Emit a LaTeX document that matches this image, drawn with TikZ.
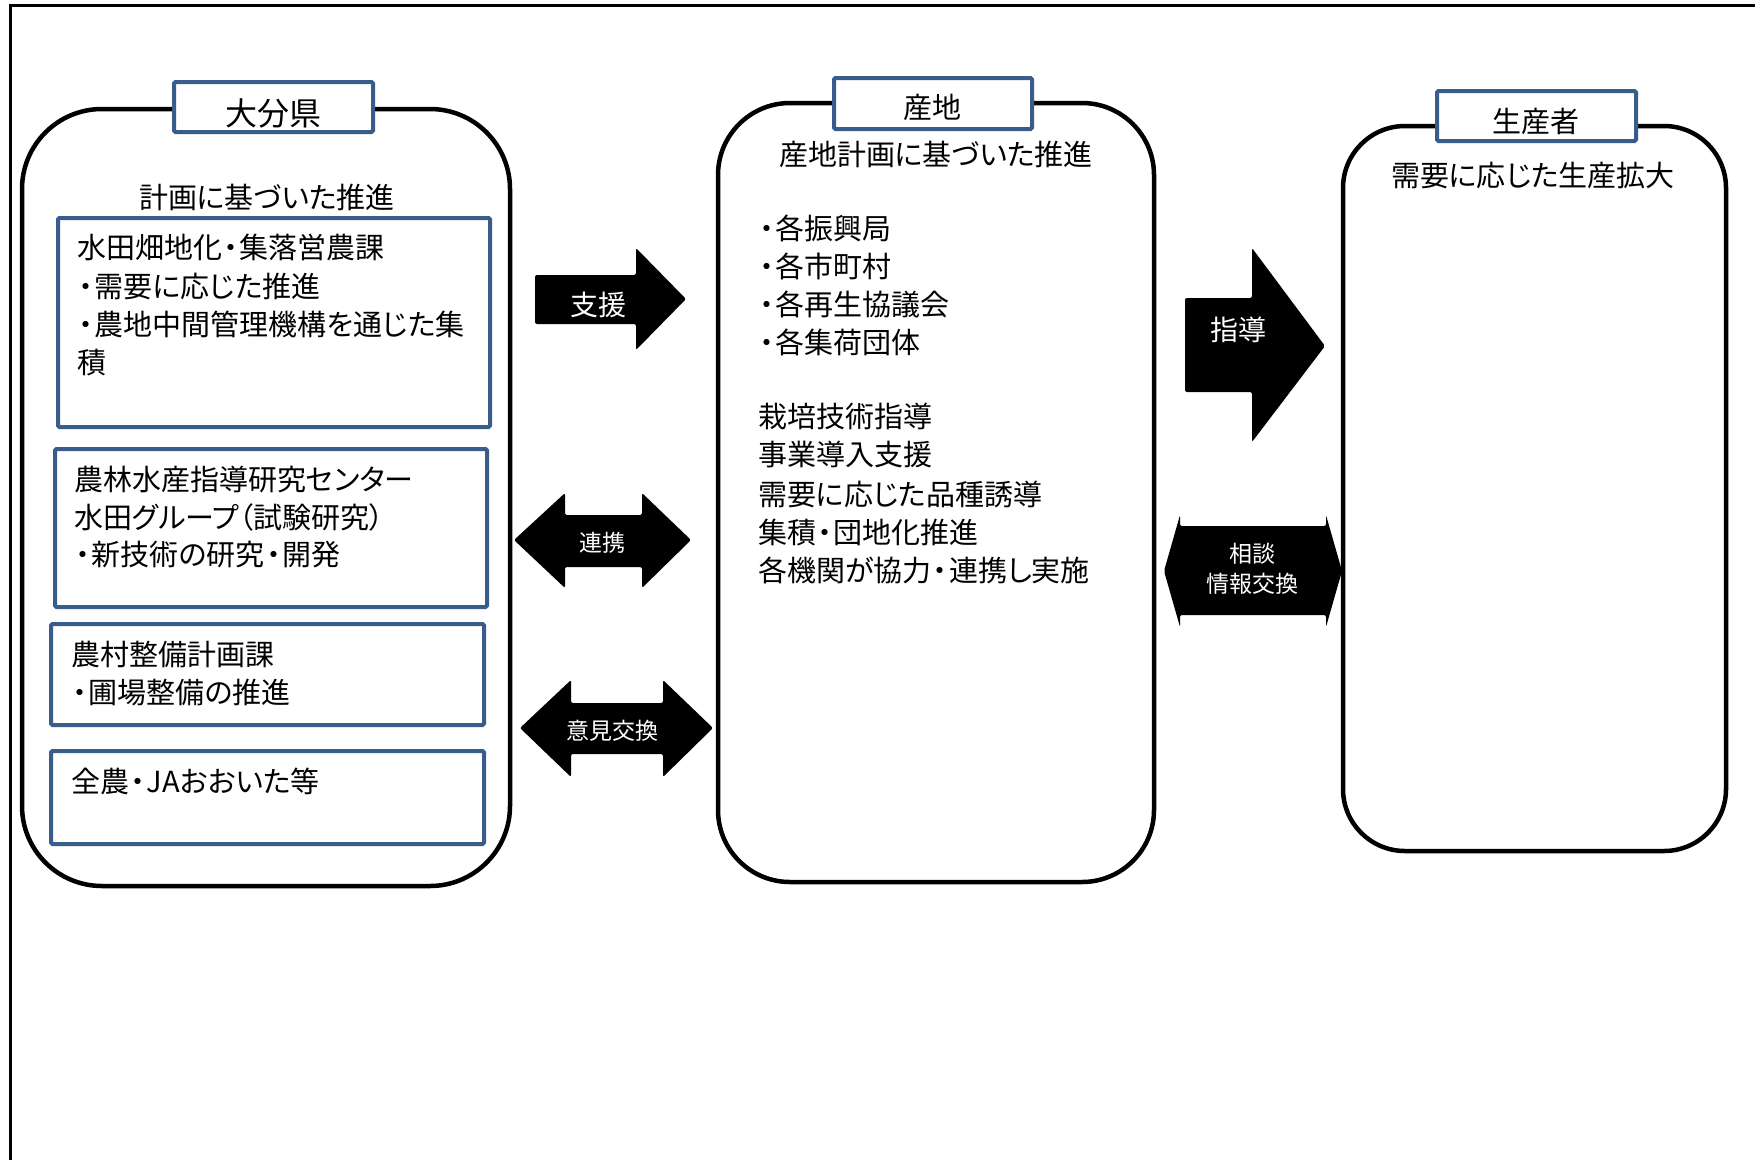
\documentclass[tikz,border=0pt]{standalone}
\usepackage{fontspec}
\setmainfont{Noto Sans CJK JP}[RawFeature={+palt}]
\definecolor{boxblue}{RGB}{56,93,138}
\newcommand\nkg{\kern1.6pt・\kern1.6pt}
\tikzset{
  bigbox/.style={draw=black, line width=4.5pt, fill=white, rounded corners=#1, inner sep=0pt},
  tabbox/.style={draw=boxblue, line width=4pt, fill=white, inner sep=0pt, rounded corners=1.5pt},
  subbox/.style={draw=boxblue, line width=4pt, fill=white, inner sep=0pt, rounded corners=1.5pt},
  txt/.style={inner sep=0pt, anchor=base west, font=\fontsize{29}{38}\selectfont},
  ctxt/.style={inner sep=0pt, anchor=base, font=\fontsize{29}{38}\selectfont},
  wtxt/.style={inner sep=0pt, anchor=base, text=white, font=\fontsize{#1}{#1}\selectfont},
  blockarrow/.style={fill=black, draw=none, rounded corners=2pt},
}
\begin{document}
\begin{tikzpicture}[x=1pt, y=-1pt]
\useasboundingbox (0,0) rectangle (1755,1160);
\fill[white] (0,0) rectangle (1755,1160);
% outer frame (only top and left visible)
\draw[line width=3pt] (1755,5.5) -- (10,5.5) -- (10,1160);

% ---- big boxes
\node[bigbox=80pt, minimum width=488pt, minimum height=777pt] (A) at (266,497.5) {};
\node[bigbox=72pt, minimum width=436pt, minimum height=779pt] (B) at (936,492.5) {};
\node[bigbox=62pt, minimum width=383pt, minimum height=725pt] (C) at (1534.5,488.5) {};

% ---- tabs
\node[tabbox, minimum width=199pt, minimum height=50pt] (tA) at (273.5,107) {};
\node[tabbox, minimum width=198pt, minimum height=51pt] (tB) at (933,103.5) {};
\node[tabbox, minimum width=199pt, minimum height=50pt] (tC) at (1536.5,116) {};
\node[inner sep=0pt, anchor=base, font=\fontsize{32}{32}\selectfont] (tAt) at (273,125) {大分県};
\node[inner sep=0pt, anchor=base, font=\fontsize{29}{29}\selectfont] (tBt) at (932,118.5) {産地};
\node[inner sep=0pt, anchor=base, font=\fontsize{29}{29}\selectfont] (tCt) at (1536,132) {生産者};

% ---- subtitles
\node[ctxt] (As) at (267,208) {計画に基づいた推進};
\node[ctxt] (Bs) at (936,165) {産地計画に基づいた推進};
\node[ctxt] (Cs) at (1533,186) {需要に応じた生産拡大};

% ---- inner boxes of 大分県
\node[subbox, minimum width=432pt, minimum height=209pt] (A1) at (274,322.5) {};
\node[subbox, minimum width=432pt, minimum height=158pt] (A2) at (271,528) {};
\node[subbox, minimum width=433pt, minimum height=101pt] (A3) at (267.5,674.5) {};
\node[subbox, minimum width=433pt, minimum height=93pt] (A4) at (267.5,797.5) {};

\node[txt] (A1a) at (77,258) {水田畑地化\nkg 集落営農課};
\node[txt] (A1b) at (77,297) {\nkg 需要に応じた推進};
\node[txt] (A1c) at (77,335) {\nkg 農地中間管理機構を通じた集};
\node[txt] (A1d) at (77,373) {積};

\node[txt] (A2a) at (74,490) {農林水産指導研究センター};
\node[txt] (A2b) at (74,528) {水田グループ（試験研究）};
\node[txt] (A2c) at (74,565) {\nkg 新技術の研究\nkg 開発};

\node[txt] (A3a) at (71,665) {農村整備計画課};
\node[txt] (A3b) at (71,703) {\nkg 圃場整備の推進};

\node[txt] (A4a) at (71,792) {全農\nkg JAおおいた等};

% ---- 産地 text
\node[txt] (B1) at (758,239) {\nkg 各振興局};
\node[txt] (B2) at (758,277) {\nkg 各市町村};
\node[txt] (B3) at (758,315) {\nkg 各再生協議会};
\node[txt] (B4) at (758,353) {\nkg 各集荷団体};
\node[txt] (B5) at (758,427) {栽培技術指導};
\node[txt] (B6) at (758,465) {事業導入支援};
\node[txt] (B7) at (758,505) {需要に応じた品種誘導};
\node[txt] (B8) at (758,543) {集積\nkg 団地化推進};
\node[txt] (B9) at (758,581) {各機関が協力\nkg 連携し実施};

% ---- block arrows
% 支援 (right)
\fill[blockarrow] (535,275) -- (636,275) -- (636,248) -- (686,299) -- (636,350) -- (636,324) -- (535,324) -- cycle;
\node[wtxt=28] (L1) at (598,315.6) {支援};
% 指導 (right)
\fill[blockarrow] (1185,298) -- (1252,298) -- (1252,248) -- (1325,346) -- (1252,442) -- (1252,392) -- (1185,392) -- cycle;
\node[wtxt=28] (L2) at (1238,340.6) {指導};
% 連携 (double)
\fill[blockarrow] (514,540) -- (565,493) -- (565,515) -- (642,515) -- (642,493) -- (691,540) -- (642,588) -- (642,567) -- (565,567) -- (565,588) -- cycle;
\node[wtxt=23] (L3) at (602,551.7) {連携};
% 意見交換 (double)
\fill[blockarrow] (520,728) -- (571,680) -- (571,703) -- (663,703) -- (663,680) -- (713,728) -- (663,777) -- (663,754) -- (571,754) -- (571,777) -- cycle;
\node[wtxt=23] (L4) at (612,739.7) {意見交換};
% 相談・情報交換 (double, shallow heads)
\fill[blockarrow] (1164,571) -- (1180,515) -- (1180,526) -- (1326,526) -- (1326,515) -- (1342,571) -- (1326,627) -- (1326,615) -- (1180,615) -- (1180,627) -- cycle;
\node[wtxt=23] (L5a) at (1252,562.7) {相談};
\node[wtxt=23] (L5b) at (1252,592.7) {情報交換};
\end{tikzpicture}
\end{document}
